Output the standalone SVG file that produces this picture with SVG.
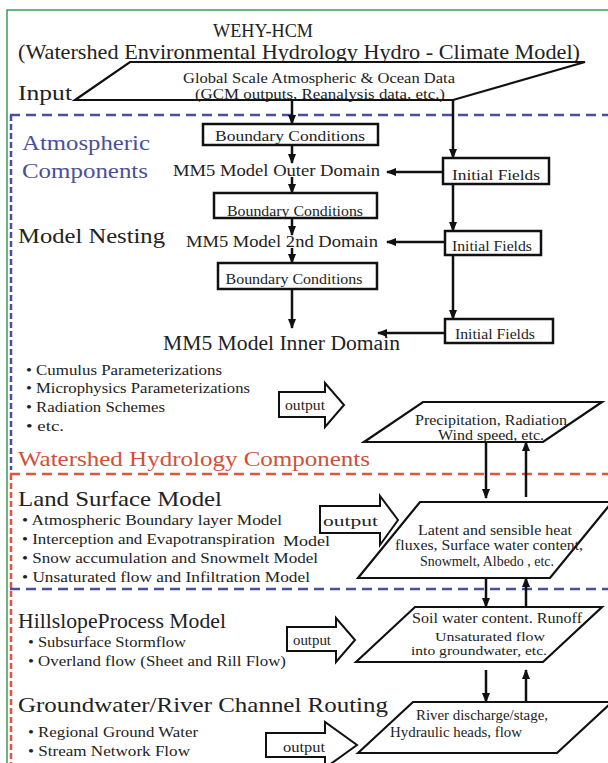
<svg xmlns="http://www.w3.org/2000/svg" width="608" height="763" viewBox="0 0 608 763" font-family="'Liberation Serif', 'Times New Roman', serif">
<defs>
<marker id="ah" markerUnits="userSpaceOnUse" markerWidth="10" markerHeight="10" viewBox="0 0 10 10" refX="9" refY="5" orient="auto">
<path d="M0,1 L10,5 L0,9 Z" fill="#111"/>
</marker>
<style>
text{font-family:'Liberation Serif','Times New Roman',serif;fill:#222}
.t{font-size:22px}
.m{font-size:17px}
.g{font-size:15px}
.s{font-size:14px}
.x{font-size:13px}
.b{font-size:14.5px}
.box{fill:#fff;stroke:#111;stroke-width:2.5}
.par{fill:#fff;stroke:#111;stroke-width:2.2}
.blk{fill:#fff;stroke:#111;stroke-width:2}
.c{fill:none;stroke:#111;stroke-width:2.5;marker-end:url(#ah)}
.bd{fill:none;stroke:#4a4f9c;stroke-width:2.5;stroke-dasharray:10 6}
.rd{fill:none;stroke:#e0553f;stroke-width:2.5;stroke-dasharray:10 6}
.bv{fill:none;stroke:#4a4f9c;stroke-width:2.5;stroke-dasharray:6 3}
.rv{fill:none;stroke:#e0553f;stroke-width:2.5;stroke-dasharray:6 3}
</style>
</defs>
<rect width="608" height="763" fill="#fff"/>
<g id="frame">
<path d="M7,763 L7,10 L608,10" fill="none" stroke="#3c9a5a" stroke-width="1.5"/>
<line class="bd" x1="10" y1="115" x2="608" y2="115"/>
<line class="bv" x1="11" y1="115" x2="11" y2="470"/>
<line class="rd" x1="10" y1="474" x2="608" y2="474"/>
<line class="rv" x1="11" y1="474" x2="11" y2="763"/>
<line class="bd" x1="10" y1="589" x2="608" y2="589"/>
</g>
<g id="titles">
<text x="263" y="37" font-size="18" text-anchor="middle" textLength="100" lengthAdjust="spacingAndGlyphs">WEHY-HCM</text>
<text x="18" y="59" font-size="21" textLength="562" lengthAdjust="spacingAndGlyphs">(Watershed Environmental Hydrology Hydro - Climate Model)</text>
<text class="t" x="18" y="100" textLength="54" lengthAdjust="spacingAndGlyphs">Input</text>
<text class="t" x="22" y="150" style="fill:#4b4f9a" textLength="128" lengthAdjust="spacingAndGlyphs">Atmospheric</text>
<text class="t" x="22" y="178" style="fill:#4b4f9a" textLength="126" lengthAdjust="spacingAndGlyphs">Components</text>
<text class="t" x="18" y="243" textLength="147" lengthAdjust="spacingAndGlyphs">Model Nesting</text>
<text x="18" y="466" font-size="21" style="fill:#d0503a" textLength="352" lengthAdjust="spacingAndGlyphs">Watershed Hydrology Components</text>
<text class="t" x="18" y="506" textLength="204" lengthAdjust="spacingAndGlyphs">Land Surface Model</text>
<text class="t" x="18" y="628" textLength="208" lengthAdjust="spacingAndGlyphs">HillslopeProcess Model</text>
<text class="t" x="18" y="712" textLength="370" lengthAdjust="spacingAndGlyphs">Groundwater/River Channel Routing</text>
</g>
<g id="input">
<path class="par" d="M75,100 L130,62 L585,62 L453,100 Z"/>
<text class="g" x="319" y="83" text-anchor="middle" textLength="272" lengthAdjust="spacingAndGlyphs">Global Scale Atmospheric &amp; Ocean Data</text>
<text class="g" x="320" y="99" text-anchor="middle" textLength="250" lengthAdjust="spacingAndGlyphs">(GCM outputs, Reanalysis data, etc.)</text>
</g>
<g id="bc1"><rect class="box" x="203" y="124" width="175" height="21"/><text class="s" x="290" y="141" text-anchor="middle" textLength="150" lengthAdjust="spacingAndGlyphs">Boundary Conditions</text></g>
<g id="outer"><text class="m" x="173" y="176" textLength="207" lengthAdjust="spacingAndGlyphs">MM5 Model Outer Domain</text></g>
<g id="if1"><rect class="box" x="443" y="158" width="106" height="26"/><text class="s" x="452" y="180" textLength="88" lengthAdjust="spacingAndGlyphs">Initial Fields</text></g>
<g id="bc2"><rect class="box" x="214" y="193" width="163" height="25"/><text class="s" x="295" y="216" text-anchor="middle" textLength="136" lengthAdjust="spacingAndGlyphs">Boundary Conditions</text></g>
<g id="second"><text class="m" x="186" y="247" textLength="192" lengthAdjust="spacingAndGlyphs">MM5 Model 2nd Domain</text></g>
<g id="if2"><rect class="box" x="445" y="231" width="96" height="24"/><text class="s" x="452" y="251" textLength="80" lengthAdjust="spacingAndGlyphs">Initial Fields</text></g>
<g id="bc3"><rect class="box" x="218" y="263" width="159" height="26"/><text class="s" x="294" y="284" text-anchor="middle" textLength="137" lengthAdjust="spacingAndGlyphs">Boundary Conditions</text></g>
<g id="inner"><text x="163" y="350" font-size="20" textLength="237" lengthAdjust="spacingAndGlyphs">MM5 Model Inner Domain</text></g>
<g id="if3"><rect class="box" x="445" y="319" width="108" height="24"/><text class="s" x="455" y="339" textLength="80" lengthAdjust="spacingAndGlyphs">Initial Fields</text></g>
<g id="atm-list">
<text class="b" x="26" y="375" textLength="196" lengthAdjust="spacingAndGlyphs">• Cumulus Parameterizations</text>
<text class="b" x="26" y="393" textLength="224" lengthAdjust="spacingAndGlyphs">• Microphysics Parameterizations</text>
<text class="b" x="26" y="412" textLength="139" lengthAdjust="spacingAndGlyphs">• Radiation Schemes</text>
<text class="b" x="26" y="431" textLength="38" lengthAdjust="spacingAndGlyphs">• etc.</text>
</g>
<g id="out1"><path class="blk" d="M279,392 L325,392 L325,383 L344,405 L325,427 L325,417 L279,417 Z"/><text class="s" x="285" y="410" textLength="40" lengthAdjust="spacingAndGlyphs">output</text></g>
<g id="precip"><path class="par" d="M364,442 L423,402 L602,402 L543,442 Z"/>
<text class="s" x="491" y="425" text-anchor="middle" textLength="152" lengthAdjust="spacingAndGlyphs">Precipitation, Radiation</text>
<text class="s" x="491" y="440" text-anchor="middle" textLength="106" lengthAdjust="spacingAndGlyphs">Wind speed, etc.</text></g>
<g id="lsm-list">
<text class="s" x="22" y="525" textLength="260" lengthAdjust="spacingAndGlyphs">• Atmospheric Boundary layer Model</text>
<text class="s" x="22" y="544" textLength="253" lengthAdjust="spacingAndGlyphs">• Interception and Evapotranspiration</text>
<text class="s" x="283" y="546" textLength="47" lengthAdjust="spacingAndGlyphs">Model</text>
<text class="s" x="22" y="563" textLength="296" lengthAdjust="spacingAndGlyphs">• Snow accumulation and Snowmelt Model</text>
<text class="s" x="22" y="582" textLength="288" lengthAdjust="spacingAndGlyphs">• Unsaturated flow and Infiltration Model</text>
</g>
<g id="out2"><path class="blk" d="M320,506 L380,506 L380,496 L398,520 L380,545 L380,533 L320,533 Z"/><text class="g" x="323" y="526" textLength="55" lengthAdjust="spacingAndGlyphs">output</text></g>
<g id="latent"><path class="par" d="M358,578 L420,502 L612,502 L550,578 Z"/>
<text class="s" x="495" y="535" text-anchor="middle" textLength="154" lengthAdjust="spacingAndGlyphs">Latent and sensible heat</text>
<text class="s" x="489" y="550" text-anchor="middle" textLength="188" lengthAdjust="spacingAndGlyphs">fluxes, Surface water content,</text>
<text class="s" x="487" y="566" text-anchor="middle" textLength="134" lengthAdjust="spacingAndGlyphs">Snowmelt, Albedo , etc.</text></g>
<g id="hill-list">
<text class="s" x="28" y="647" textLength="158" lengthAdjust="spacingAndGlyphs">• Subsurface  Stormflow</text>
<text class="s" x="28" y="666" textLength="258" lengthAdjust="spacingAndGlyphs">• Overland flow (Sheet and Rill Flow)</text>
</g>
<g id="out3"><path class="blk" d="M287,627 L336,627 L336,618 L355,640 L336,662 L336,651 L287,651 Z"/><text class="s" x="293" y="645" textLength="38" lengthAdjust="spacingAndGlyphs">output</text></g>
<g id="soil"><path class="par" d="M356,662 L415,607 L602,607 L543,662 Z"/>
<text class="s" x="497" y="623" text-anchor="middle" textLength="170" lengthAdjust="spacingAndGlyphs">Soil water content. Runoff</text>
<text class="x" x="490" y="641" text-anchor="middle" textLength="110" lengthAdjust="spacingAndGlyphs">Unsaturated flow</text>
<text class="x" x="479" y="655" text-anchor="middle" textLength="136" lengthAdjust="spacingAndGlyphs">into groundwater, etc.</text></g>
<g id="gw-list">
<text class="s" x="28" y="737" textLength="170" lengthAdjust="spacingAndGlyphs">• Regional Ground Water</text>
<text class="s" x="28" y="756" textLength="162" lengthAdjust="spacingAndGlyphs">• Stream Network Flow</text>
</g>
<g id="out4"><path class="blk" d="M266,733 L325,733 L325,722 L357,745 L325,768 L325,757 L266,757 Z"/><text class="s" x="283" y="752" textLength="42" lengthAdjust="spacingAndGlyphs">output</text></g>
<g id="river"><path class="par" d="M358,753 L413,702 L612,702 L557,753 Z"/>
<text class="s" x="416" y="720" textLength="132" lengthAdjust="spacingAndGlyphs">River discharge/stage,</text>
<text class="s" x="390" y="737" textLength="132" lengthAdjust="spacingAndGlyphs">Hydraulic heads, flow</text></g>
<g id="connectors">
<line class="c" x1="292" y1="100" x2="292" y2="124"/>
<line class="c" x1="453" y1="100" x2="453" y2="158"/>
<line class="c" x1="292" y1="145" x2="292" y2="163"/>
<line class="c" x1="292" y1="177" x2="292" y2="193"/>
<line class="c" x1="443" y1="172" x2="387" y2="172"/>
<line class="c" x1="453" y1="184" x2="453" y2="231"/>
<line class="c" x1="292" y1="218" x2="292" y2="235"/>
<line class="c" x1="292" y1="248" x2="292" y2="263"/>
<line class="c" x1="445" y1="242" x2="387" y2="242"/>
<line class="c" x1="453" y1="255" x2="453" y2="319"/>
<line class="c" x1="292" y1="289" x2="292" y2="328"/>
<line class="c" x1="445" y1="333" x2="378" y2="333"/>
<line class="c" x1="486" y1="442" x2="486" y2="498"/>
<line class="c" x1="526" y1="497" x2="526" y2="442"/>
<line class="c" x1="486" y1="578" x2="486" y2="607"/>
<line class="c" x1="526" y1="607" x2="526" y2="578"/>
<line class="c" x1="486" y1="670" x2="486" y2="702"/>
<line class="c" x1="526" y1="702" x2="526" y2="670"/>
</g>
</svg>
